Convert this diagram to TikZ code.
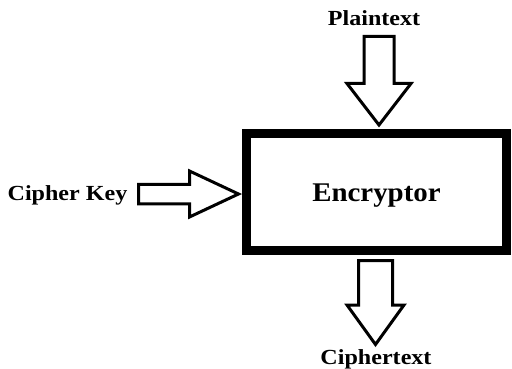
\documentclass[tikz,border=0pt]{standalone}
\usepackage{fontspec}
\setmainfont{Liberation Serif}
\usetikzlibrary{calc}

% Hollow block arrow: #1 tail point, #2 tip point, #3 shaft half-width,
% #4 head half-width, #5 head length (all as dimensions)
\newcommand\blockarrow[5]{%
  \coordinate (ba-n) at ($(#2)!#5!(#1)$);
  \draw[blockline]
    ($(#1)!#3!90:(#2)$) -- ($(ba-n)!#3!90:(#2)$) -- ($(ba-n)!#4!90:(#2)$)
    -- (#2)
    -- ($(ba-n)!#4!-90:(#2)$) -- ($(ba-n)!#3!-90:(#2)$) -- ($(#1)!#3!-90:(#2)$)
    -- cycle;}

\begin{document}
\begin{tikzpicture}[x=1pt,y=-1pt,
  blockline/.style={draw=black, line width=3pt, miter limit=10, fill=white},
  labeltext/.style={anchor=base, inner sep=0pt, text=black,
    font=\fontsize{21.5}{24}\selectfont\bfseries},
  boxstyle/.style={draw=black, line width=9pt, fill=white,
    minimum width=260pt, minimum height=117pt, inner sep=0pt,
    font=\fontsize{27}{30}\selectfont\bfseries}]
  \useasboundingbox (0,0) rectangle (512,369);

  % central block
  \node[boxstyle] (enc) at (376.5,192) {};
  \node[labeltext, font=\fontsize{27}{30}\selectfont\bfseries] (enctext) at (376.5,201.5)
    {\scalebox{1.07}[1]{Encryptor}};

  % labels
  \node[labeltext] (plain) at (374,26) {\scalebox{1.12}[1]{Plaintext}};
  \node[labeltext] (key) at (67.5,200) {\scalebox{1.12}[1]{Cipher Key}};
  \node[labeltext] (cipher) at (376,364) {\scalebox{1.12}[1]{Ciphertext}};

  % arrow end points
  \coordinate (plain-tail) at (379,36.5);
  \coordinate (plain-tip) at (379,125);
  \coordinate (key-tail) at (138.5,194);
  \coordinate (key-tip) at (238.5,194);
  \coordinate (cipher-tail) at (375.5,260.5);
  \coordinate (cipher-tip) at (375.5,344.5);

  % block arrows
  \blockarrow{plain-tail}{plain-tip}{15pt}{32pt}{41.5pt}
  \blockarrow{key-tail}{key-tip}{9.75pt}{23pt}{49pt}
  \blockarrow{cipher-tail}{cipher-tip}{17pt}{28.5pt}{39.5pt}
\end{tikzpicture}
\end{document}
